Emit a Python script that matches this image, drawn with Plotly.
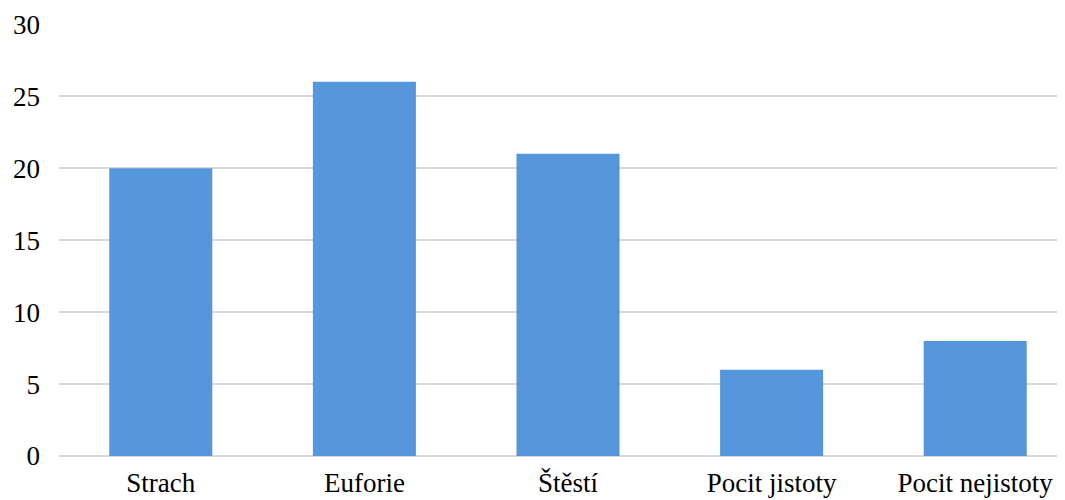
import plotly.graph_objects as go

categories = ["Strach", "Euforie", "Štěstí", "Pocit jistoty", "Pocit nejistoty"]
values = [20, 26, 21, 6, 8]
y_ticks = [0, 5, 10, 15, 20, 25, 30]

font_family = "Times New Roman"

fig = go.Figure(
    go.Bar(
        x=list(range(len(categories))),
        y=values,
        width=0.506,
        marker=dict(color="#5597da", line=dict(width=0)),
        hoverinfo="skip",
    )
)

fig.update_layout(
    width=1057,
    height=492,
    margin=dict(l=51, r=0, t=16, b=44),
    paper_bgcolor="white",
    plot_bgcolor="white",
    showlegend=False,
    font=dict(family=font_family, size=27, color="black"),
)

fig.update_xaxes(
    range=[-0.5, 4.441],
    tickmode="array",
    tickvals=list(range(len(categories))),
    ticktext=categories,
    showgrid=False,
    zeroline=False,
    showline=False,
    ticks="",
    ticklabelstandoff=8,
    tickfont=dict(family=font_family, size=27, color="black"),
)

fig.update_yaxes(
    range=[0, 30.02],
    tickmode="array",
    tickvals=y_ticks,
    ticktext=[str(v) for v in y_ticks],
    showgrid=True,
    gridcolor="#d9d9d9",
    gridwidth=1.5,
    zeroline=True,
    zerolinecolor="#d9d9d9",
    zerolinewidth=1.5,
    showline=False,
    ticks="",
    ticklabelstandoff=18,
    tickfont=dict(family=font_family, size=27, color="black"),
)

fig.write_html("out.html")
